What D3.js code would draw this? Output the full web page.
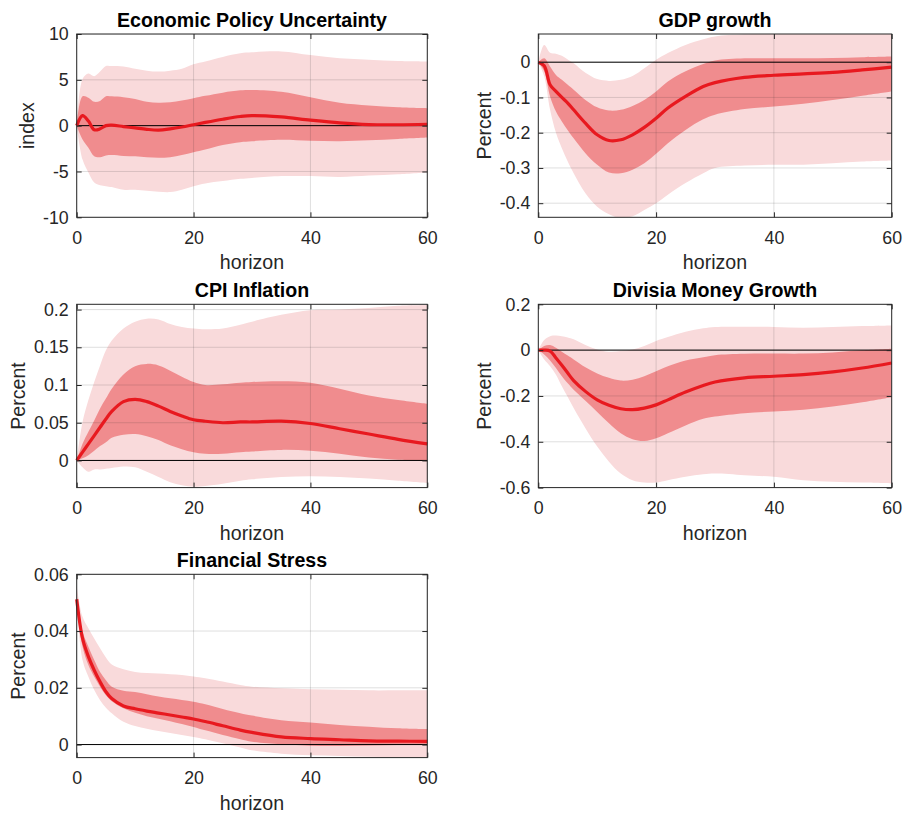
<!DOCTYPE html>
<html>
<head>
<meta charset="utf-8">
<script src="https://cdn.jsdelivr.net/npm/d3@7"></script>
<style>
body { margin: 0; background: #fff; }
svg { display: block; font-family: "Liberation Sans", Arial, Helvetica, sans-serif; }
</style>
</head>
<body>
<svg id="irf"></svg>
<script>
let width = 903,
    height = 814;

const horizons = [0, 1, 2, 3, 4, 5, 6, 8, 10, 12, 14, 16, 18, 20, 22, 25, 28, 30, 35, 40, 45, 50, 55, 60];
const xTicks = [0, 20, 40, 60];

// Economic Policy Uncertainty
const epuMed     = [0, 1.1, 0.5, -0.45, -0.35, 0, 0.05, -0.1, -0.25, -0.4, -0.48, -0.35, -0.15, 0.1, 0.35, 0.7, 1.0, 1.1, 0.95, 0.6, 0.3, 0.12, 0.1, 0.15];
const epuInnerHi = [0, 3.2, 3.05, 2.6, 2.7, 3.2, 3.2, 3.1, 2.9, 2.6, 2.5, 2.55, 2.75, 3.0, 3.25, 3.6, 3.85, 3.9, 3.7, 3.1, 2.5, 2.2, 2.0, 1.9];
const epuInnerLo = [0, -1.5, -2.4, -3.35, -3.45, -3.25, -3.2, -3.3, -3.35, -3.45, -3.5, -3.45, -3.2, -2.9, -2.6, -2.1, -1.8, -1.7, -1.55, -1.65, -1.7, -1.6, -1.45, -1.3];
const epuOuterHi = [0, 5.1, 5.7, 5.4, 5.9, 6.5, 6.5, 6.45, 6.2, 6.0, 5.9, 6.0, 6.2, 6.7, 7.0, 7.5, 7.9, 8.0, 8.1, 7.7, 7.35, 7.2, 7.05, 7.0];
const epuOuterLo = [0, -3.7, -5.1, -6.2, -6.5, -6.6, -6.7, -7.0, -7.0, -7.1, -7.2, -7.25, -7.0, -6.6, -6.3, -6.05, -5.8, -5.7, -5.5, -5.5, -5.6, -5.45, -5.3, -5.1];

// GDP growth
const gdpMed     = [0, -0.01, -0.064, -0.083, -0.1, -0.116, -0.135, -0.173, -0.206, -0.222, -0.22, -0.206, -0.185, -0.159, -0.13, -0.097, -0.069, -0.058, -0.043, -0.037, -0.033, -0.029, -0.022, -0.014];
const gdpInnerHi = [0, 0.011, -0.012, -0.036, -0.05, -0.064, -0.078, -0.107, -0.128, -0.137, -0.135, -0.124, -0.107, -0.083, -0.055, -0.026, -0.005, 0.005, 0.011, 0.011, 0.011, 0.012, 0.014, 0.016];
const gdpInnerLo = [0, -0.026, -0.097, -0.14, -0.168, -0.193, -0.216, -0.258, -0.291, -0.313, -0.315, -0.305, -0.287, -0.26, -0.23, -0.192, -0.162, -0.149, -0.133, -0.126, -0.118, -0.107, -0.095, -0.083];
const gdpOuterHi = [0, 0.049, 0.027, 0.024, 0.018, 0.008, -0.003, -0.03, -0.048, -0.053, -0.05, -0.039, -0.017, 0.007, 0.026, 0.049, 0.065, 0.073, 0.079, 0.082, 0.085, 0.086, 0.087, 0.088];
const gdpOuterLo = [0, -0.04, -0.135, -0.2, -0.244, -0.282, -0.315, -0.372, -0.41, -0.431, -0.442, -0.437, -0.419, -0.4, -0.376, -0.343, -0.315, -0.3, -0.293, -0.291, -0.291, -0.287, -0.282, -0.279];

// CPI Inflation
const cpiMed     = [0, 0.011, 0.022, 0.033, 0.044, 0.055, 0.065, 0.078, 0.081, 0.078, 0.072, 0.065, 0.059, 0.054, 0.052, 0.05, 0.051, 0.051, 0.052, 0.049, 0.042, 0.035, 0.028, 0.022];
const cpiInnerHi = [0, 0.022, 0.038, 0.053, 0.069, 0.082, 0.095, 0.114, 0.125, 0.128, 0.126, 0.119, 0.111, 0.104, 0.1, 0.101, 0.103, 0.104, 0.105, 0.103, 0.095, 0.086, 0.08, 0.075];
const cpiInnerLo = [0, 0.003, 0.007, 0.013, 0.019, 0.024, 0.03, 0.034, 0.035, 0.032, 0.027, 0.02, 0.015, 0.011, 0.009, 0.009, 0.011, 0.012, 0.014, 0.013, 0.009, 0.004, 0.001, -0.001];
const cpiOuterHi = [0, 0.051, 0.08, 0.104, 0.126, 0.146, 0.159, 0.175, 0.184, 0.188, 0.187, 0.181, 0.177, 0.175, 0.174, 0.175, 0.18, 0.184, 0.193, 0.199, 0.2, 0.202, 0.205, 0.206];
const cpiOuterLo = [0, -0.009, -0.015, -0.012, -0.012, -0.011, -0.01, -0.008, -0.009, -0.015, -0.022, -0.029, -0.033, -0.035, -0.034, -0.031, -0.027, -0.025, -0.022, -0.021, -0.022, -0.024, -0.027, -0.03];

// Divisia Money Growth
const divMed     = [0, 0, -0.004, -0.034, -0.066, -0.1, -0.133, -0.18, -0.217, -0.241, -0.256, -0.26, -0.253, -0.239, -0.217, -0.183, -0.154, -0.139, -0.121, -0.114, -0.107, -0.095, -0.078, -0.056];
const divInnerHi = [0, 0.018, 0.022, 0.01, -0.007, -0.024, -0.041, -0.075, -0.102, -0.121, -0.133, -0.129, -0.114, -0.092, -0.07, -0.045, -0.031, -0.022, -0.016, -0.015, -0.015, -0.01, -0.001, 0.006];
const divInnerLo = [0, -0.019, -0.045, -0.078, -0.114, -0.145, -0.173, -0.221, -0.27, -0.319, -0.363, -0.389, -0.397, -0.385, -0.363, -0.329, -0.3, -0.29, -0.275, -0.268, -0.26, -0.246, -0.228, -0.206];
const divOuterHi = [0, 0.044, 0.061, 0.064, 0.061, 0.055, 0.047, 0.022, 0.003, -0.007, -0.004, 0.003, 0.018, 0.04, 0.057, 0.08, 0.095, 0.101, 0.102, 0.101, 0.098, 0.101, 0.105, 0.108];
const divOuterLo = [0, -0.041, -0.07, -0.107, -0.158, -0.205, -0.253, -0.341, -0.421, -0.487, -0.539, -0.568, -0.578, -0.578, -0.568, -0.553, -0.542, -0.539, -0.546, -0.553, -0.568, -0.575, -0.578, -0.582];

// Financial Stress
const fsMed     = [0.0512, 0.0374, 0.031, 0.0262, 0.0221, 0.0186, 0.0162, 0.0136, 0.0126, 0.0118, 0.0111, 0.0104, 0.0097, 0.009, 0.0081, 0.0066, 0.0051, 0.0043, 0.0027, 0.0021, 0.0017, 0.0013, 0.0012, 0.0011];
const fsInnerHi = [0.053, 0.0398, 0.0345, 0.0298, 0.0256, 0.0227, 0.0204, 0.019, 0.0185, 0.0177, 0.0169, 0.0163, 0.0157, 0.0151, 0.0142, 0.0125, 0.011, 0.0102, 0.0086, 0.0078, 0.0069, 0.0063, 0.0057, 0.0054];
const fsInnerLo = [0.05, 0.0345, 0.028, 0.0239, 0.0204, 0.0174, 0.0153, 0.0128, 0.0112, 0.01, 0.0091, 0.0082, 0.0072, 0.0062, 0.005, 0.0034, 0.0019, 0.001, 0.0001, -0.0004, -0.0005, -0.0003, -0.0002, 0];
const fsOuterHi = [0.056, 0.045, 0.041, 0.0374, 0.0339, 0.0307, 0.0282, 0.0265, 0.0256, 0.0252, 0.025, 0.0248, 0.0245, 0.024, 0.0234, 0.0222, 0.021, 0.0204, 0.0198, 0.0195, 0.0193, 0.0191, 0.0191, 0.0191];
const fsOuterLo = [0.05, 0.0298, 0.0239, 0.0192, 0.0156, 0.013, 0.011, 0.008, 0.0065, 0.0056, 0.0048, 0.0041, 0.0034, 0.0027, 0.0019, 0.0005, -0.001, -0.002, -0.0032, -0.0038, -0.004, -0.0043, -0.0045, -0.0047];

const panels = [
    {title: 'Economic Policy Uncertainty', ylabel: 'index', col: 0, row: 0,
     yDomain: [-10, 10], yTicks: [-10, -5, 0, 5, 10],
     med: epuMed, innerHi: epuInnerHi, innerLo: epuInnerLo, outerHi: epuOuterHi, outerLo: epuOuterLo},
    {title: 'GDP growth', ylabel: 'Percent', col: 1, row: 0,
     yDomain: [-0.44, 0.08], yTicks: [-0.4, -0.3, -0.2, -0.1, 0],
     med: gdpMed, innerHi: gdpInnerHi, innerLo: gdpInnerLo, outerHi: gdpOuterHi, outerLo: gdpOuterLo},
    {title: 'CPI Inflation', ylabel: 'Percent', col: 0, row: 1,
     yDomain: [-0.036, 0.207], yTicks: [0, 0.05, 0.1, 0.15, 0.2],
     med: cpiMed, innerHi: cpiInnerHi, innerLo: cpiInnerLo, outerHi: cpiOuterHi, outerLo: cpiOuterLo},
    {title: 'Divisia Money Growth', ylabel: 'Percent', col: 1, row: 1,
     yDomain: [-0.6, 0.2], yTicks: [-0.6, -0.4, -0.2, 0, 0.2],
     med: divMed, innerHi: divInnerHi, innerLo: divInnerLo, outerHi: divOuterHi, outerLo: divOuterLo},
    {title: 'Financial Stress', ylabel: 'Percent', col: 0, row: 2,
     yDomain: [-0.0046, 0.06], yTicks: [0, 0.02, 0.04, 0.06],
     med: fsMed, innerHi: fsInnerHi, innerLo: fsInnerLo, outerHi: fsOuterHi, outerLo: fsOuterLo}
];

const colX = [76.7, 538.3],
      colW = [350.6, 353.4],
      rowY = [34, 304.3, 574.3],
      rowH = 183.3;

const axisColor = '#262626';
const curve = d3.curveCatmullRom.alpha(0.5);

let svg = d3.select('svg#irf')
    .attr('width', width)
    .attr('height', height);

svg.append('rect').attr('width', width).attr('height', height).attr('fill', '#fff');

function styleAxis(sel, fontSize) {
    sel.select('.domain').remove();
    sel.selectAll('line').attr('stroke', axisColor);
    sel.selectAll('text')
        .attr('fill', axisColor)
        .style('font-size', fontSize + 'px');
}

function drawPanel(p, i) {
    let w = colW[p.col],
        h = rowH;
    let g = svg.append('g')
        .attr('transform', `translate(${colX[p.col]},${rowY[p.row]})`);

    let x = d3.scaleLinear().domain([0, 60]).range([0, w]);
    let y = d3.scaleLinear().domain(p.yDomain).range([h, 0]);

    g.append('clipPath').attr('id', 'clip' + i)
        .append('rect').attr('width', w).attr('height', h);
    let plot = g.append('g').attr('clip-path', `url(#clip${i})`);

    function band(lo, hi) {
        return d3.area()
            .x((d, j) => x(horizons[j]))
            .y0((d, j) => y(lo[j]))
            .y1((d, j) => y(hi[j]))
            .curve(curve)(lo);
    }

    plot.append('path').attr('d', band(p.outerLo, p.outerHi)).attr('fill', '#f9dadb');
    plot.append('path').attr('d', band(p.innerLo, p.innerHi)).attr('fill', '#f08c8e');

    // grid on top of the bands
    plot.selectAll('line.gx')
        .data(xTicks)
        .join('line')
        .attr('class', 'gx')
        .attr('x1', d => x(d)).attr('x2', d => x(d))
        .attr('y1', 0).attr('y2', h)
        .attr('stroke', axisColor).attr('stroke-opacity', 0.15);
    plot.selectAll('line.gy')
        .data(p.yTicks)
        .join('line')
        .attr('class', 'gy')
        .attr('x1', 0).attr('x2', w)
        .attr('y1', d => y(d)).attr('y2', d => y(d))
        .attr('stroke', axisColor).attr('stroke-opacity', 0.15);

    // zero line
    plot.append('line')
        .attr('x1', x(0)).attr('x2', x(60))
        .attr('y1', y(0)).attr('y2', y(0))
        .attr('stroke', '#000').attr('stroke-width', 1);

    g.append('path')
        .datum(p.med)
        .attr('d', d3.line()
            .x((d, j) => x(horizons[j]))
            .y(d => y(d))
            .curve(curve))
        .attr('fill', 'none')
        .attr('stroke', '#e8191f')
        .attr('stroke-width', 3.2)
        .attr('stroke-linejoin', 'round');

    // axes, ticks pointing inwards on all four sides
    let yAxis = g.append('g')
        .call(d3.axisLeft(y).tickValues(p.yTicks).tickFormat(d => String(d))
            .tickSizeInner(-5).tickSizeOuter(0).tickPadding(8));
    styleAxis(yAxis, 17.8);

    let xAxis = g.append('g')
        .attr('transform', `translate(0,${h})`)
        .call(d3.axisBottom(x).tickValues(xTicks)
            .tickSizeInner(-5).tickSizeOuter(0).tickPadding(14));
    styleAxis(xAxis, 17.8);

    let rAxis = g.append('g')
        .attr('transform', `translate(${w},0)`)
        .call(d3.axisRight(y).tickValues(p.yTicks).tickFormat('').tickSizeInner(-5).tickSizeOuter(0));
    styleAxis(rAxis, 17.8);

    let tAxis = g.append('g')
        .call(d3.axisTop(x).tickValues(xTicks).tickFormat('').tickSizeInner(-5).tickSizeOuter(0));
    styleAxis(tAxis, 17.8);

    g.append('rect')
        .attr('width', w).attr('height', h)
        .attr('fill', 'none')
        .attr('stroke', axisColor).attr('stroke-width', 1);

    g.append('text')
        .attr('x', w / 2).attr('y', -7.5)
        .attr('text-anchor', 'middle')
        .attr('font-weight', 'bold')
        .style('font-size', '19.6px')
        .attr('fill', '#000')
        .text(p.title);

    g.append('text')
        .attr('x', w / 2).attr('y', h + 52)
        .attr('text-anchor', 'middle')
        .style('font-size', '19.6px')
        .attr('fill', axisColor)
        .text('horizon');

    let maxW = d3.max(yAxis.selectAll('text').nodes(), n => n.getComputedTextLength());
    g.append('text')
        .attr('transform', `translate(${-8 - maxW - 9},${h / 2}) rotate(-90)`)
        .attr('text-anchor', 'middle')
        .style('font-size', '19.6px')
        .attr('fill', axisColor)
        .text(p.ylabel);
}

panels.forEach((p, i) => drawPanel(p, i));
</script>
</body>
</html>
